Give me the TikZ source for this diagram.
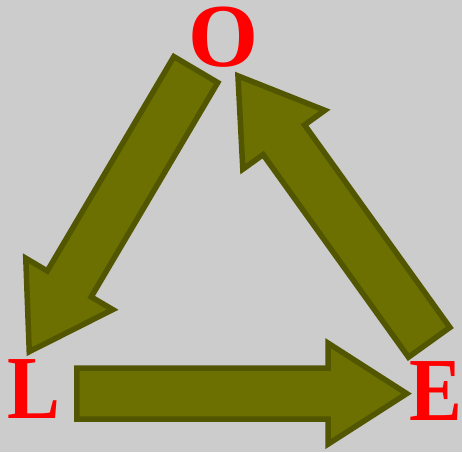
\documentclass[tikz,border=0pt]{standalone}
\usepackage{fontspec}
\setmainfont{Liberation Serif}
\definecolor{bgc}{RGB}{204,204,204}
\definecolor{olivefill}{RGB}{107,112,0}
\definecolor{olivedraw}{RGB}{82,86,0}
\definecolor{lettercol}{RGB}{255,0,0}
\tikzset{
  arrowstyle/.style={fill=olivefill, draw=olivedraw, line width=5.5pt, line join=miter},
  letter/.style={text=lettercol, font=\fontsize{90}{90}\selectfont\bfseries, inner sep=0pt, anchor=base},
  pics/fatarrow/.style={code={
    \path[arrowstyle] (0,-25.5) -- ({#1-78.7},-25.5) -- ({#1-78.7},-50.5) -- (#1,0)
      -- ({#1-78.7},50.5) -- ({#1-78.7},25.5) -- (0,25.5) -- cycle;}}
}
\begin{document}
\begin{tikzpicture}[x=1pt,y=-1pt]
\path[fill=bgc] (0,0) rectangle (462,452);
\useasboundingbox (0,0) rectangle (462,452);
\node[letter] (O) at (223,66) {O};
\node[letter, xscale=0.88] (L) at (33.6,418) {L};
\node[letter, xscale=0.88] (E) at (436.3,420.5) {E};
\coordinate (tOL) at (195.8,69.6);
\coordinate (tLE) at (76.75,393.6);
\coordinate (tEO) at (429.2,342.3);
\pic[rotate=-120.56] at (tOL) {fatarrow=327.6};
\pic at (tLE) {fatarrow=330};
\pic[rotate=125.67] at (tEO) {fatarrow=328};
\end{tikzpicture}
\end{document}
